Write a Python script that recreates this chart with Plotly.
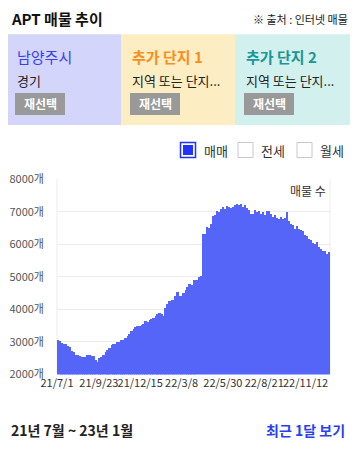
import plotly.graph_objects as go
import pandas as pd

# ---- data ----
start_date = "2021-07-03"
step_days = 4
listing_counts = [
    3065, 3013, 2960, 2940, 2940, 2860, 2830, 2715, 2690, 2604,
    2604, 2573, 2522, 2522, 2540, 2590, 2604, 2573, 2553, 2450,
    2390, 2500, 2522, 2604, 2680, 2740, 2800, 2911, 2942, 2942,
    2980, 3000, 3065, 3044, 3115, 3187, 3249, 3320, 3400, 3450,
    3474, 3494, 3525, 3556, 3627, 3597, 3679, 3700, 3730, 3800,
    3840, 3883, 3853, 3800, 4050, 4170, 4262, 4293, 4293, 4416,
    4538, 4416, 4395, 4500, 4600, 4672, 4784, 4754, 4907, 4907,
    4907, 4989, 5030, 6300, 6320, 6534, 6483, 6627, 6850, 6883,
    7026, 6995, 7077, 7150, 7077, 7179, 7138, 7108, 7148, 7200,
    7230, 7200, 7220, 7150, 7200, 7120, 7050, 6923, 6923, 7036,
    6975, 7005, 6934, 6985, 6883, 7005, 7005, 6923, 6832, 6903,
    6800, 6780, 6832, 6780, 6800, 6995, 6698, 6627, 6596, 6463,
    6566, 6463, 6442, 6412, 6289, 6238, 6166, 6115, 6033, 6012,
    6053, 5900, 5859, 5798, 5777, 5705, 5767,
]
dates = pd.date_range(start_date, periods=len(listing_counts), freq=f"{step_days}D")

tick_dates = ["2021-07-01", "2021-09-23", "2021-12-15", "2022-03-08",
              "2022-05-30", "2022-08-21", "2022-11-12"]
tick_labels = ["21/7/1", "21/9/23", "21/12/15", "22/3/8",
               "22/5/30", "22/8/21", "22/11/12"]
y_ticks = [2000, 3000, 4000, 5000, 6000, 7000, 8000]
y_labels = [f"{v}개" for v in y_ticks]

WIN_W, WIN_H = 358, 449
PAD = 8  # default page body margin
W, H = WIN_W - 2 * PAD, WIN_H - 2 * PAD
FONT = "Noto Sans CJK KR"
BAR = "#5465F8"

fig = go.Figure()
fig.add_trace(go.Bar(
    x=dates, y=listing_counts,
    width=step_days * 86400000,
    marker=dict(color=BAR, line=dict(width=0)),
    hoverinfo="skip",
))

def px(x):
    return (x - PAD) / W

def py(y):
    return 1 - (y - PAD) / H

x0d = dates[0] - pd.Timedelta(days=2)
x1d = dates[-1] + pd.Timedelta(days=2)

fig.update_layout(
    width=W, height=H,
    margin=dict(l=0, r=0, t=0, b=0, autoexpand=False),
    paper_bgcolor="white", plot_bgcolor="white",
    showlegend=False, bargap=0,
    font=dict(family=FONT, size=11, color="#333"),
    xaxis=dict(
        domain=[px(57), px(330)], range=[x0d, x1d], type="date",
        tickvals=tick_dates, ticktext=tick_labels, ticks="", tickangle=0,
        tickfont=dict(size=11, color="#333"), showgrid=False, automargin=False,
        zeroline=False, showline=False, fixedrange=True,
    ),
    yaxis=dict(
        domain=[py(374.5), py(179.3)], range=[2000, 8000],
        tickvals=y_ticks, ticktext=y_labels, ticks="", automargin=False,
        tickfont=dict(size=11, color="#555"),
        showgrid=True, gridcolor="#ececec", gridwidth=1,
        zeroline=False, showline=False, fixedrange=True, ticklabelstandoff=12,
    ),
)

shapes = []
annotations = []

for xx in (57, 330):
    shapes.append(dict(type="line", xref="paper", yref="paper",
                       x0=px(xx), x1=px(xx), y0=py(179.3), y1=py(374.5),
                       line=dict(color="#ececec", width=1), layer="below"))

annotations.append(dict(text="<b>APT 매물 추이</b>", x=px(10), y=py(18), xref="paper", yref="paper",
                        xanchor="left", yanchor="middle", showarrow=False, borderpad=0,
                        font=dict(size=15, color="#111", family=FONT)))
annotations.append(dict(text="※ 출처 : 인터넷 매물", x=px(349), y=py(19), xref="paper", yref="paper",
                        xanchor="right", yanchor="middle", showarrow=False, borderpad=0,
                        font=dict(size=11, color="#222", family=FONT)))

boxes = [
    (6, 121, "#d3d5fb", "남양주시", "#3a40f0", "경기", False),
    (121, 235, "#fdedc3", "추가 단지 1", "#f78f1e", "지역 또는 단지...", True),
    (235, 350, "#d2f0ee", "추가 단지 2", "#1a9696", "지역 또는 단지...", True),
]
for x0, x1, bg, title, tcol, sub, bold in boxes:
    shapes.append(dict(type="rect", xref="paper", yref="paper",
                       x0=px(x0), x1=px(x1), y0=py(125), y1=py(34.3),
                       fillcolor=bg, line=dict(width=0), layer="below"))
    t = f"<b>{title}</b>" if bold else title
    annotations.append(dict(text=t, x=px(x0 + 9), y=py(57), xref="paper", yref="paper",
                            xanchor="left", yanchor="middle", showarrow=False,
                            font=dict(size=15, color=tcol, family=FONT)))
    annotations.append(dict(text=sub, x=px(x0 + 9), y=py(80), xref="paper", yref="paper",
                            xanchor="left", yanchor="middle", showarrow=False,
                            font=dict(size=13, color="#222", family=FONT)))
    shapes.append(dict(type="rect", xref="paper", yref="paper",
                       x0=px(x0 + 9), x1=px(x0 + 59), y0=py(115), y1=py(93),
                       fillcolor="#999999", line=dict(width=0)))
    annotations.append(dict(text="<b>재선택</b>", x=px(x0 + 34), y=py(104), xref="paper", yref="paper",
                            xanchor="center", yanchor="middle", showarrow=False,
                            font=dict(size=12, color="white", family=FONT)))

legend_items = [(180.5, "매매", True), (238, "전세", False), (297, "월세", False)]
for lx, label, checked in legend_items:
    if checked:
        shapes.append(dict(type="rect", xref="paper", yref="paper",
                           x0=px(lx), x1=px(lx + 15), y0=py(157.5), y1=py(142.5),
                           fillcolor="white", line=dict(color="#2233ff", width=1.5)))
        shapes.append(dict(type="rect", xref="paper", yref="paper",
                           x0=px(lx + 2.5), x1=px(lx + 12.5), y0=py(155), y1=py(145),
                           fillcolor="#2233ff", line=dict(width=0)))
    else:
        shapes.append(dict(type="rect", xref="paper", yref="paper",
                           x0=px(lx), x1=px(lx + 15), y0=py(157.5), y1=py(142.5),
                           fillcolor="white", line=dict(color="#c8c8d0", width=1)))
    annotations.append(dict(text=label, x=px(lx + 21), y=py(150.5), xref="paper", yref="paper",
                            xanchor="left", yanchor="middle", showarrow=False,
                            font=dict(size=13, color="#333", family=FONT)))

annotations.append(dict(text="매물 수", x=px(328), y=py(190), xref="paper", yref="paper",
                        xanchor="right", yanchor="middle", showarrow=False,
                        font=dict(size=12, color="#333", family=FONT)))

annotations.append(dict(text="<b>21년 7월 ~ 23년 1월</b>", x=px(10), y=py(429.5), xref="paper", yref="paper",
                        xanchor="left", yanchor="middle", showarrow=False, borderpad=0,
                        font=dict(size=14, color="#222", family=FONT)))
annotations.append(dict(text="<b>최근 1달 보기</b>", x=px(346), y=py(429.5), xref="paper", yref="paper",
                        xanchor="right", yanchor="middle", showarrow=False, borderpad=0,
                        font=dict(size=14, color="#2a3ff0", family=FONT)))

fig.update_layout(shapes=shapes, annotations=annotations)
fig.write_html("out.html", config={"displayModeBar": False})
